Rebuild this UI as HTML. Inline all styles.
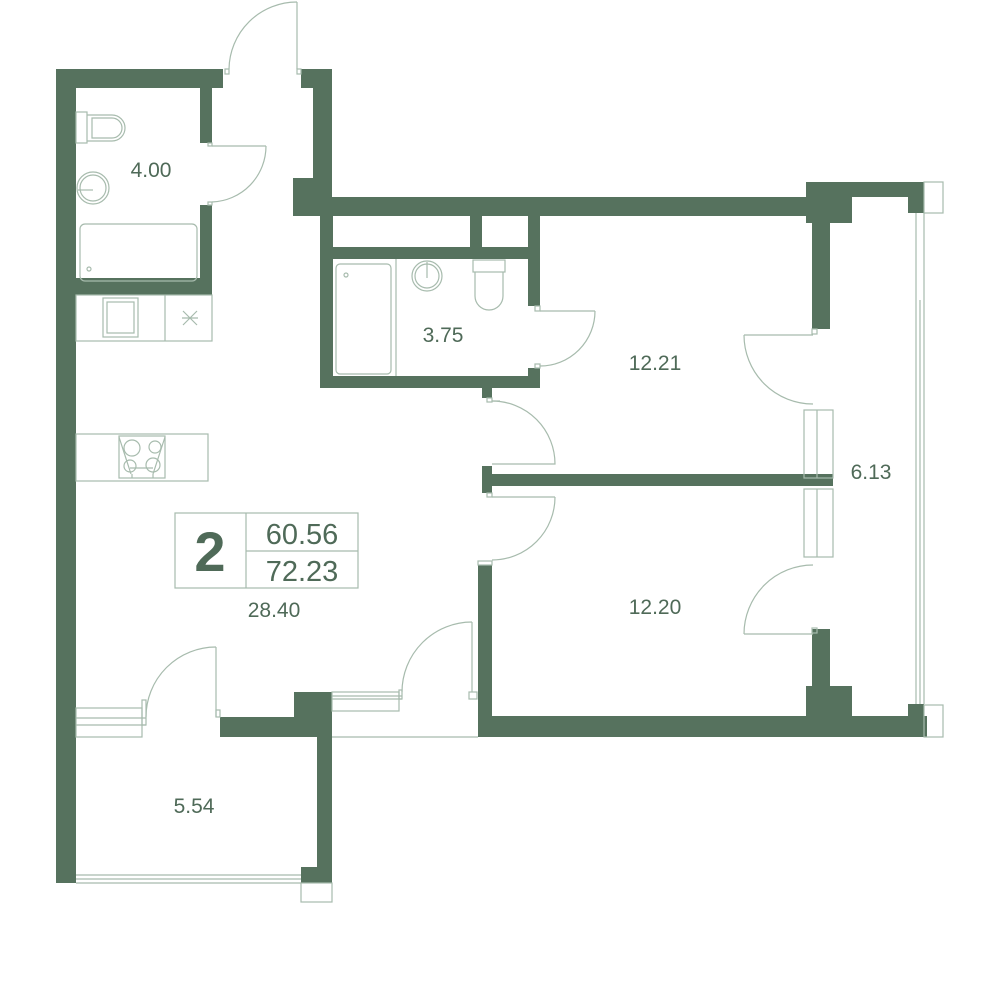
<!DOCTYPE html>
<html><head><meta charset="utf-8"><style>
html,body{margin:0;padding:0;background:#fff;}
svg{display:block}
text{font-family:"Liberation Sans",sans-serif;fill:#4f6a58}
</style></head><body>
<svg width="1000" height="1000" viewBox="0 0 1000 1000" xmlns="http://www.w3.org/2000/svg">
<g fill="#56725e">
<rect x="56" y="69" width="20" height="814"/>
<rect x="56" y="69" width="167" height="19"/>
<rect x="200" y="88" width="12" height="55"/>
<rect x="200" y="205" width="12" height="90"/>
<rect x="76" y="278" width="136" height="17"/>
<rect x="301" y="69" width="31" height="19"/>
<rect x="313" y="88" width="19" height="110"/>
<rect x="293" y="178" width="39" height="38"/>
<rect x="332" y="197" width="480" height="19"/>
<rect x="320" y="216" width="13" height="172"/>
<rect x="320" y="376" width="220" height="12"/>
<rect x="333" y="247" width="207" height="12"/>
<rect x="470" y="216" width="12" height="31"/>
<rect x="528" y="216" width="12" height="90"/>
<rect x="528" y="368" width="12" height="20"/>
<rect x="482" y="388" width="10" height="10"/>
<rect x="482" y="466" width="10" height="27"/>
<rect x="492" y="474" width="341" height="12"/>
<rect x="478" y="565" width="14" height="172"/>
<rect x="478" y="716" width="449" height="21"/>
<rect x="806" y="182" width="118" height="15"/>
<rect x="806" y="182" width="46" height="41"/>
<rect x="812" y="216" width="18" height="113"/>
<rect x="908" y="197" width="16" height="16"/>
<rect x="812" y="629" width="18" height="87"/>
<rect x="806" y="686" width="46" height="30"/>
<rect x="908" y="704" width="16" height="12"/>
<rect x="220" y="717" width="112" height="20"/>
<rect x="294" y="692" width="38" height="45"/>
<rect x="317" y="737" width="15" height="146"/>
<rect x="301" y="867" width="31" height="16"/>
</g>
<g fill="none" stroke="#a7bbad" stroke-width="1.2">
<rect x="225" y="69" width="4" height="5"/><rect x="297" y="69" width="4" height="5"/>
<line x1="297" y1="2" x2="297" y2="69"/>
<path d="M229,69 A68,68 0 0 1 297,2"/>
<rect x="208" y="143" width="4" height="3"/><rect x="208" y="202" width="4" height="3"/>
<line x1="212" y1="146" x2="266" y2="146"/>
<path d="M266,146 A56,56 0 0 1 212,202"/>
<rect x="76" y="112" width="11" height="31"/>
<path d="M87,115 H112 A13,13 0 0 1 112,141 H87"/>
<path d="M92,118 H112 A10,10 0 0 1 112,138 H92Z"/>
<circle cx="93" cy="188" r="16"/><circle cx="93" cy="188" r="13"/>
<line x1="78" y1="190" x2="93" y2="190"/>
<rect x="80" y="224" width="117" height="57" rx="5"/>
<circle cx="89" cy="269" r="2"/>
<rect x="76" y="295" width="136" height="46"/>
<line x1="165" y1="295" x2="165" y2="341"/>
<rect x="103" y="298" width="35" height="39"/><rect x="107" y="302" width="27" height="31"/>
<path d="M183,311 L197,325 M197,311 L183,325 M182,318 H198"/>
<rect x="76" y="434" width="132" height="47"/>
<rect x="119" y="436" width="46" height="42"/>
<path d="M119,437 L131,474 M165,437 L153,474 M130,468 H153 M132,474 V478 M153,474 V478"/>
<circle cx="132" cy="448" r="8"/><circle cx="155" cy="447" r="6"/>
<circle cx="130" cy="466" r="6"/><circle cx="153" cy="465" r="7"/>
<rect x="175" y="513" width="183" height="75"/>
<line x1="246" y1="513" x2="246" y2="588"/>
<line x1="246" y1="551" x2="358" y2="551"/>
<rect x="336" y="264" width="55" height="110" rx="4"/>
<circle cx="346" cy="275" r="2"/>
<line x1="396" y1="259" x2="396" y2="376"/>
<circle cx="427" cy="276" r="15"/><circle cx="427" cy="276" r="12"/>
<line x1="427" y1="262" x2="427" y2="278"/>
<rect x="473" y="260" width="32" height="12"/>
<path d="M475,272 V296 A14,14 0 0 0 503,296 V272"/>
<rect x="535" y="306" width="5" height="5"/><rect x="535" y="364" width="5" height="4"/>
<line x1="540" y1="311" x2="595" y2="311"/>
<path d="M595,311 A55,55 0 0 1 540,366"/>
<rect x="487" y="398" width="5" height="4"/>
<line x1="492" y1="401" x2="500" y2="401"/>
<path d="M492,401 A63,63 0 0 1 555,464 H492"/>
<rect x="487" y="493" width="5" height="4"/><rect x="478" y="561" width="14" height="4"/>
<line x1="492" y1="497" x2="555" y2="497"/>
<path d="M555,497 A63,63 0 0 1 492,560"/>
<rect x="812" y="329" width="5" height="5"/>
<line x1="744" y1="335" x2="813" y2="335"/>
<path d="M744,335 A69,69 0 0 0 813,404"/>
<rect x="812" y="628" width="5" height="5"/>
<line x1="744" y1="634" x2="813" y2="634"/>
<path d="M744,634 A69,69 0 0 1 813,565"/>
<rect x="804" y="410" width="29" height="68"/><line x1="817" y1="410" x2="817" y2="478"/>
<rect x="804" y="489" width="29" height="68"/><line x1="817" y1="489" x2="817" y2="557"/>
<line x1="916" y1="213" x2="916" y2="704"/><line x1="924" y1="213" x2="924" y2="704"/>
<line x1="920" y1="300" x2="920" y2="704"/>
<rect x="924" y="182" width="19" height="31"/>
<rect x="924" y="705" width="19" height="32"/>
<rect x="76" y="708" width="66" height="29"/>
<line x1="76" y1="718" x2="146" y2="718"/><line x1="76" y1="725" x2="146" y2="725"/>
<rect x="142" y="700" width="4" height="25"/>
<line x1="216" y1="647" x2="216" y2="717"/>
<rect x="216" y="710" width="4" height="7"/>
<path d="M146,717 A70,70 0 0 1 216,647"/>
<rect x="332" y="692" width="67" height="19"/>
<line x1="332" y1="696" x2="402" y2="696"/><line x1="332" y1="699" x2="402" y2="699"/>
<rect x="399" y="690" width="3" height="9"/>
<line x1="472" y1="622" x2="472" y2="692"/>
<rect x="469" y="692" width="8" height="7"/>
<path d="M402,692 A70,70 0 0 1 472,622"/>
<line x1="332" y1="737" x2="478" y2="737"/>
<line x1="76" y1="875" x2="301" y2="875"/><line x1="76" y1="879" x2="301" y2="879"/><line x1="76" y1="883" x2="301" y2="883"/>
<rect x="301" y="883" width="31" height="19"/>
</g>
<g font-size="21" text-anchor="middle">
<text x="151" y="177">4.00</text>
<text x="443" y="342">3.75</text>
<text x="655" y="370">12.21</text>
<text x="871" y="479">6.13</text>
<text x="655" y="614">12.20</text>
<text x="274" y="617">28.40</text>
<text x="194" y="813">5.54</text>
<text x="302" y="544" font-size="29">60.56</text>
<text x="302" y="581" font-size="29">72.23</text>
<text x="210" y="571" font-size="56" font-weight="bold">2</text>
</g>
</svg>
</body></html>
